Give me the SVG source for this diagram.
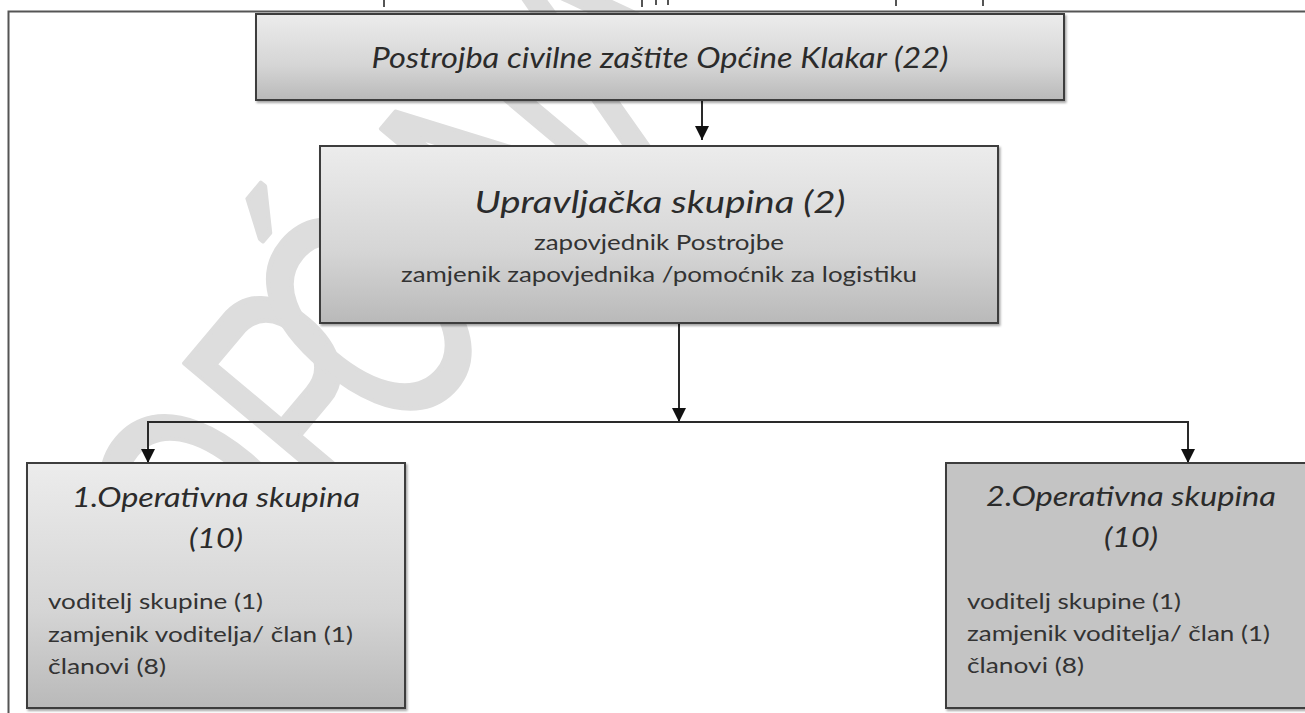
<svg xmlns="http://www.w3.org/2000/svg" width="1305" height="713" viewBox="0 0 1305 713">
<style>
.frame{fill:none;stroke:#555;stroke-width:2}
.tick{stroke:#555;stroke-width:2}
.wm{font-family:"Liberation Sans",Arial,sans-serif;font-size:320px;fill:#dddddd;stroke:#dddddd;stroke-width:5;stroke-linejoin:round}
.box{stroke:#3c3c3c;stroke-width:2;filter:url(#sh)}
.g{fill:url(#grad)}
.flat{fill:#c4c4c4}
.title{font-family:Lato,"Open Sans",sans-serif;font-style:italic;fill:#2b2b2b;text-anchor:middle}
.body{font-family:Lato,"Open Sans",sans-serif;fill:#333;font-size:22px}
.ctr{text-anchor:middle}
.conn{fill:none;stroke:#2a2a2a;stroke-width:2}
</style>
<defs>
<linearGradient id="grad" x1="0" y1="0" x2="0" y2="1">
<stop offset="0" stop-color="#ececec"/>
<stop offset="0.6" stop-color="#d5d5d5"/>
<stop offset="1" stop-color="#b9b9b9"/>
</linearGradient>
<filter id="sh" x="-5%" y="-5%" width="110%" height="115%">
<feDropShadow dx="1.5" dy="2" stdDeviation="1.2" flood-color="#000" flood-opacity="0.35"/>
</filter>
<marker id="ah" markerUnits="userSpaceOnUse" markerWidth="16" markerHeight="16" refX="14" refY="7" orient="auto">
<path d="M0,0 L14,7 L0,14 z" fill="#111"/>
</marker>
</defs>
<rect width="1305" height="713" fill="#fff"/>
<g id="watermark">
<text class="wm" transform="translate(240,640) rotate(-50) scale(0.67,1)" x="-12 236 373" y="0">OPĆINA</text>
</g>
<g id="frame">
<path class="frame" d="M8.5,713 V11.5 H1305"/>
<line class="tick" x1="384" y1="0" x2="384" y2="7"/>
<line class="tick" x1="642" y1="0" x2="642" y2="7"/>
<line class="tick" x1="656" y1="0" x2="656" y2="5"/>
<line class="tick" x1="668" y1="0" x2="668" y2="5"/>
<line class="tick" x1="896" y1="0" x2="896" y2="6"/>
<line class="tick" x1="983" y1="0" x2="983" y2="6"/>
</g>
<g id="connectors">
<path class="conn" d="M702,100 V140" marker-end="url(#ah)"/>
<path class="conn" d="M679,323 V422" marker-end="url(#ah)"/>
<path class="conn" d="M679,422 H148 V463" marker-end="url(#ah)"/>
<path class="conn" d="M679,422 H1188 V463" marker-end="url(#ah)"/>
</g>
<g id="node-postrojba">
<rect class="box g" x="256" y="14" width="808" height="86"/>
<text class="title" x="660" y="68" font-size="28" textLength="577" lengthAdjust="spacingAndGlyphs">Postrojba civilne zaštite Općine Klakar (22)</text>
</g>
<g id="node-upravljacka">
<rect class="box g" x="320" y="146" width="678" height="177"/>
<text class="title" x="660" y="213" font-size="31" textLength="371" lengthAdjust="spacingAndGlyphs">Upravljačka skupina (2)</text>
<text class="body ctr" x="659" y="250" textLength="250" lengthAdjust="spacingAndGlyphs">zapovjednik Postrojbe</text>
<text class="body ctr" x="659" y="282" textLength="516" lengthAdjust="spacingAndGlyphs">zamjenik zapovjednika /pomoćnik za logistiku</text>
</g>
<g id="node-op1">
<rect class="box g" x="27" y="463" width="378" height="245"/>
<text class="title" x="216" y="507" font-size="27" textLength="288" lengthAdjust="spacingAndGlyphs">1.Operativna skupina</text>
<text class="title" x="216" y="548" font-size="27" textLength="54" lengthAdjust="spacingAndGlyphs">(10)</text>
<text class="body" x="48" y="609" textLength="215" lengthAdjust="spacingAndGlyphs">voditelj skupine (1)</text>
<text class="body" x="48" y="642" textLength="305" lengthAdjust="spacingAndGlyphs">zamjenik voditelja/ član (1)</text>
<text class="body" x="48" y="674" textLength="118" lengthAdjust="spacingAndGlyphs">članovi (8)</text>
</g>
<g id="node-op2">
<rect class="box flat" x="946" y="463" width="370" height="245"/>
<text class="title" x="1131" y="506" font-size="27" textLength="290" lengthAdjust="spacingAndGlyphs">2.Operativna skupina</text>
<text class="title" x="1131" y="547" font-size="27" textLength="54" lengthAdjust="spacingAndGlyphs">(10)</text>
<text class="body" x="967" y="609" textLength="214" lengthAdjust="spacingAndGlyphs">voditelj skupine (1)</text>
<text class="body" x="967" y="641" textLength="303" lengthAdjust="spacingAndGlyphs">zamjenik voditelja/ član (1)</text>
<text class="body" x="967" y="673" textLength="117" lengthAdjust="spacingAndGlyphs">članovi (8)</text>
</g>
</svg>
